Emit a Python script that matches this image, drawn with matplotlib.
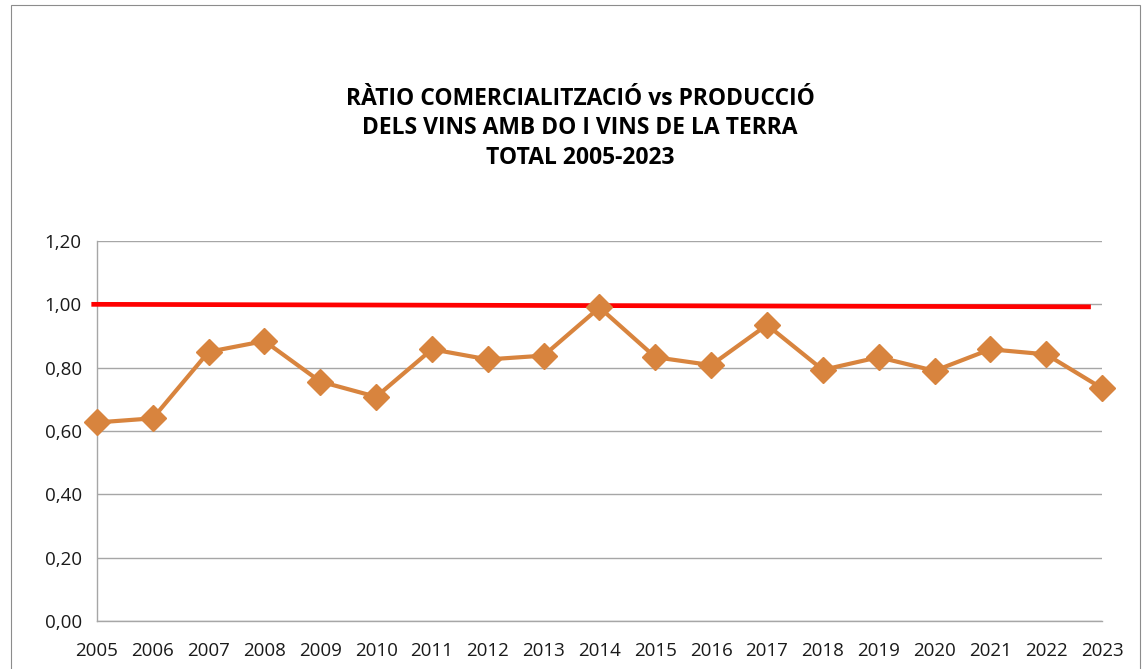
import matplotlib.pyplot as plt
from matplotlib.patches import Rectangle
from matplotlib.ticker import FuncFormatter

plt.rcParams['font.family'] = ['Open Sans', 'DejaVu Sans']

years = list(range(2005, 2024))
ratio = [0.627, 0.640, 0.850, 0.884, 0.756, 0.708, 0.858, 0.826, 0.838, 0.990,
         0.833, 0.808, 0.935, 0.793, 0.833, 0.790, 0.858, 0.842, 0.735]
# red reference line (slightly sloped, as in the original)
ref_x = [2004.9, 2022.8]
ref_y = [1.000, 0.992]
yticks = [0.0, 0.2, 0.4, 0.6, 0.8, 1.0, 1.2]
title = "RÀTIO COMERCIALITZACIÓ vs PRODUCCIÓ\nDELS VINS AMB DO I VINS DE LA TERRA\nTOTAL 2005-2023"

fig = plt.figure(figsize=(11.42, 6.69), dpi=100)
ax = fig.add_axes([0.0849, 0.0717, 0.8801, 0.5681])

fig.patches.append(Rectangle((11 / 1142, -0.01), 1129 / 1142, 1 - 5 / 669 + 0.01,
                             transform=fig.transFigure, fill=False,
                             edgecolor='#8c8c8c', linewidth=0.8))

ax.plot(ref_x, ref_y, color='#ff0000', linewidth=3.4, solid_capstyle='butt',
        clip_on=False, zorder=3)
ax.plot(years, ratio, color='#d8843e', linewidth=3, marker='D', markersize=13.5,
        clip_on=False, zorder=4)

ax.set_xlim(2005, 2023)
ax.set_ylim(0, 1.2)
ax.set_yticks(yticks)
ax.set_xticks(years)
ax.yaxis.set_major_formatter(FuncFormatter(lambda v, p: f"{v:.2f}".replace('.', ',')))
ax.grid(axis='y', color='#a6a6a6', linewidth=1)
ax.set_axisbelow(True)
for s in ['top', 'right']:
    ax.spines[s].set_visible(False)
for s in ['left', 'bottom']:
    ax.spines[s].set_color('#a6a6a6')
    ax.spines[s].set_linewidth(1)
ax.tick_params(length=0, labelsize=13.5, colors='#1a1a1a')
ax.tick_params(axis='x', pad=15)
ax.tick_params(axis='y', pad=11)

fig.text(0.508, 0.870, title, ha='center', va='top', fontsize=16.5,
         fontweight='bold', linespacing=1.3, color='#000000')

fig.savefig('out.png', dpi=100)
